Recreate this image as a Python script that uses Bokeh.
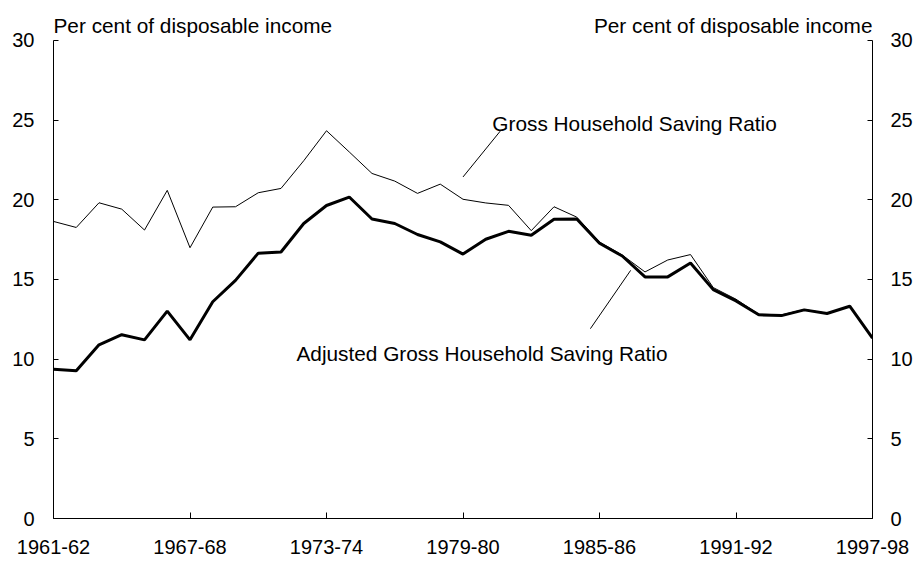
from bokeh.plotting import figure
from bokeh.models import Range1d, LinearAxis, FixedTicker, Label
from bokeh.embed import file_html
from bokeh.resources import INLINE

years = ["1961-62", "1962-63", "1963-64", "1964-65", "1965-66", "1966-67", "1967-68",
         "1968-69", "1969-70", "1970-71", "1971-72", "1972-73", "1973-74", "1974-75",
         "1975-76", "1976-77", "1977-78", "1978-79", "1979-80", "1980-81", "1981-82",
         "1982-83", "1983-84", "1984-85", "1985-86", "1986-87", "1987-88", "1988-89",
         "1989-90", "1990-91", "1991-92", "1992-93", "1993-94", "1994-95", "1995-96",
         "1996-97", "1997-98"]

gross = [18.64, 18.26, 19.81, 19.41, 18.10, 20.59, 16.99, 19.54, 19.56, 20.44,
         20.71, 22.45, 24.33, 23.0, 21.65, 21.17, 20.40, 20.98, 20.03, 19.8,
         19.65, 18.06, 19.56, 18.91, 17.35, 16.53, 15.47, 16.22, 16.56, 14.49,
         13.76, 12.82, 12.78, 13.11, 12.88, 13.34, 11.32]

adjusted = [9.37, 9.27, 10.9, 11.53, 11.21, 13.01, 11.21, 13.6, 14.94, 16.65,
            16.72, 18.51, 19.64, 20.17, 18.79, 18.51, 17.82, 17.36, 16.59, 17.52,
            18.02, 17.77, 18.77, 18.79, 17.27, 16.47, 15.16, 15.16, 16.03, 14.36,
            13.65, 12.78, 12.73, 13.09, 12.86, 13.32, 11.32]

tick_labels = ["1961-62", "1967-68", "1973-74", "1979-80", "1985-86", "1991-92", "1997-98"]
y_ticks = [0, 5, 10, 15, 20, 25, 30]
unit_label = "Per cent of disposable income"
gross_name = "Gross Household Saving Ratio"
adjusted_name = "Adjusted Gross Household Saving Ratio"

FONT = "Liberation Sans"
idx = list(range(len(years)))
tick_pos = [years.index(t) for t in tick_labels]

# the frame extends a little above 30 so that the unit labels fit inside it;
# the axes themselves stop at 30 via their bounds
p = figure(width=915, height=563, output_backend="svg", toolbar_location=None,
           x_range=Range1d(0, len(years) - 1), y_range=Range1d(0, 32),
           min_border_left=53, min_border_right=42, min_border_top=8, min_border_bottom=45)
p.outline_line_color = None
p.xgrid.visible = False
p.ygrid.visible = False
p.background_fill_color = "white"
p.border_fill_color = "white"


def style_axis(ax, tick_in, standoff):
    ax.major_tick_in = tick_in
    ax.major_tick_out = 0
    ax.minor_tick_in = 0
    ax.minor_tick_out = 0
    ax.major_label_standoff = standoff
    ax.axis_line_color = "black"
    ax.major_tick_line_color = "black"
    ax.major_label_text_font = FONT
    ax.major_label_text_font_size = "20px"
    ax.major_label_text_color = "black"


# x axis
xa = p.xaxis[0]
xa.ticker = FixedTicker(ticks=tick_pos)
xa.major_label_overrides = {pos: lab for pos, lab in zip(tick_pos, tick_labels)}
style_axis(xa, 6, 21)

# left y axis
ya = p.yaxis[0]
ya.ticker = FixedTicker(ticks=y_ticks)
ya.bounds = (0, 30)
style_axis(ya, 5, 19)

# right y axis
ra = LinearAxis(ticker=FixedTicker(ticks=y_ticks), bounds=(0, 30))
style_axis(ra, 5, 18)
p.add_layout(ra, "right")

# series
p.line(idx, gross, line_color="black", line_width=1)
p.line(idx, adjusted, line_color="black", line_width=3)

# annotations
TXT = "20.8px"
p.add_layout(Label(x=0, y=30.95, text=unit_label, text_align="left",
                   text_baseline="alphabetic", text_font=FONT, text_font_size=TXT,
                   text_color="black"))
p.add_layout(Label(x=len(years) - 1, y=30.95, text=unit_label, text_align="right",
                   text_baseline="alphabetic", text_font=FONT, text_font_size=TXT,
                   text_color="black"))
p.add_layout(Label(x=19.29, y=24.78, text=gross_name, text_align="left",
                   text_baseline="alphabetic", text_font=FONT, text_font_size=TXT,
                   text_color="black"))
p.add_layout(Label(x=10.68, y=10.34, text=adjusted_name, text_align="left",
                   text_baseline="alphabetic", text_font=FONT, text_font_size=TXT,
                   text_color="black"))

# leader lines
p.segment(x0=[18.0, 23.6], y0=[21.43, 11.91], x1=[19.64, 25.37], y1=[24.31, 15.57],
          line_color="black", line_width=1)

open("out.html", "w").write(file_html(p, INLINE))
